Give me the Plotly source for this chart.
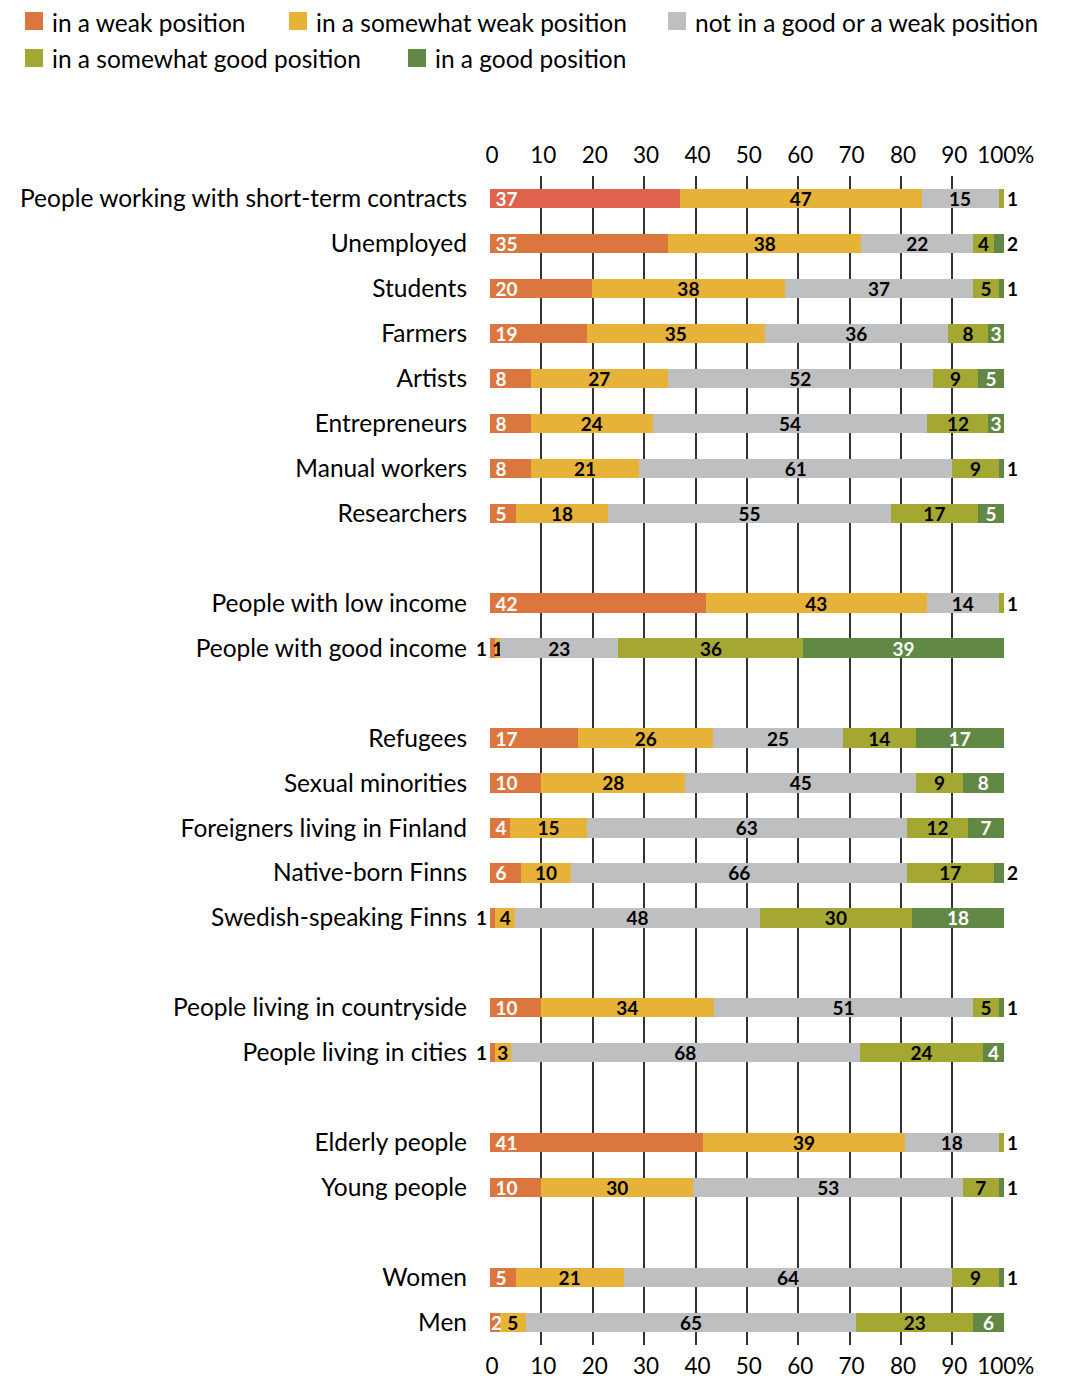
import plotly.graph_objects as go

# ---- data (None = spacer row between groups) ----
categories = [
    "People working with short-term contracts", "Unemployed", "Students", "Farmers",
    "Artists", "Entrepreneurs", "Manual workers", "Researchers", None,
    "People with low income", "People with good income", None,
    "Refugees", "Sexual minorities", "Foreigners living in Finland",
    "Native-born Finns", "Swedish-speaking Finns", None,
    "People living in countryside", "People living in cities", None,
    "Elderly people", "Young people", None,
    "Women", "Men",
]
weak          = [37, 35, 20, 19, 8, 8, 8, 5, None, 42, 1, None, 17, 10, 4, 6, 1, None, 10, 1, None, 41, 10, None, 5, 2]
somewhat_weak = [47, 38, 38, 35, 27, 24, 21, 18, None, 43, 1, None, 26, 28, 15, 10, 4, None, 34, 3, None, 39, 30, None, 21, 5]
neutral       = [15, 22, 37, 36, 52, 54, 61, 55, None, 14, 23, None, 25, 45, 63, 66, 48, None, 51, 68, None, 18, 53, None, 64, 65]
somewhat_good = [1, 4, 5, 8, 9, 12, 9, 17, None, 1, 36, None, 14, 9, 12, 17, 30, None, 5, 24, None, 1, 7, None, 9, 23]
good          = [0, 2, 1, 3, 5, 3, 1, 5, None, 0, 39, None, 17, 8, 7, 2, 18, None, 1, 4, None, 0, 1, None, 1, 6]

series_names = ["in a weak position", "in a somewhat weak position",
                "not in a good or a weak position", "in a somewhat good position",
                "in a good position"]
series_values = [weak, somewhat_weak, neutral, somewhat_good, good]
series_colors = ["#DB763E", "#E6B237", "#BEBFC1", "#A4A833", "#628845"]
text_colors = ["white", "black", "black", "black", "white"]
text_anchor = ["start", "middle", "middle", "middle", "middle"]
text_prefix = ["\u2009", "", "", "", ""]
highlight_color = "#E0634E"   # first row's weak segment

x_ticks = [0, 10, 20, 30, 40, 50, 60, 70, 80, 90, 100]
x_ticktext = ["0", "10", "20", "30", "40", "50", "60", "70", "80", "90", "100%"]

FONT = "Lato, 'Open Sans', sans-serif"
rows = list(range(len(categories)))

# ---- geometry (page has an 8px body margin) ----
W, H = 1062, 1371
L, R, T, B = 482, 66, 168, 34
PW, PH = W - L - R, H - T - B
OFF = 8


def px_x(px):
    return ((px - OFF) - L) / PW


def px_y(py):
    return 1 - ((py - OFF) - T) / PH


# decide which labels sit outside the bar
inside_text = [[("" if v is None else text_prefix[k] + str(v)) for v in s]
               for k, s in enumerate(series_values)]
annotations = []
lab_font = dict(family=FONT, size=19, color="black", weight="bold")
for r in rows:
    vals = [s[r] for s in series_values]
    if vals[0] is None:
        continue
    nz = [i for i, v in enumerate(vals) if v]
    last = nz[-1]
    if vals[last] <= 2:
        inside_text[last][r] = ""
        annotations.append(dict(x=100, y=r, xref="x", yref="y", text=str(vals[last]),
                                showarrow=False, xanchor="left", xshift=1, font=lab_font))
    if vals[0] == 1:
        inside_text[0][r] = ""
        annotations.append(dict(x=0, y=r, xref="x", yref="y", text=str(vals[0]),
                                showarrow=False, xanchor="right", xshift=-1, font=lab_font))
    elif vals[0] == 2:
        # too narrow: draw on top so it stays visible over the next segment
        inside_text[0][r] = ""
        annotations.append(dict(x=0, y=r, xref="x", yref="y", text=str(vals[0]),
                                showarrow=False, xanchor="left", xshift=-1,
                                font=dict(family=FONT, size=19, color="white", weight="bold")))
    for i, v in enumerate(vals):
        if v == 0:
            inside_text[i][r] = ""

fig = go.Figure()
for i, (name, vals) in enumerate(zip(series_names, series_values)):
    colors = [series_colors[i]] * len(rows)
    if i == 0:
        colors[0] = highlight_color
    fig.add_trace(go.Bar(
        name=name, x=vals, y=rows, orientation="h",
        marker=dict(color=colors, line=dict(width=0)),
        width=0.43,
        text=inside_text[i], textposition="inside", insidetextanchor=text_anchor[i],
        textangle=0, cliponaxis=False,
        textfont=dict(family=FONT, size=19, color=text_colors[i], weight="bold"),
        hoverinfo="x+name", showlegend=False,
    ))

# invisible trace to carry the top axis
fig.add_trace(go.Scatter(x=[0, 100], y=[0, 0], xaxis="x2", mode="markers",
                         marker=dict(opacity=0), showlegend=False, hoverinfo="skip"))

# ---- manual legend (two rows) ----
legend_slots = [(25, 21, 23), (289, 21, 23), (668, 21, 23), (25, 58, 58), (408, 58, 58)]
shapes = []
for (sx, sy, ty), name, col in zip(legend_slots, series_names, series_colors):
    shapes.append(dict(type="rect", xref="paper", yref="paper",
                       x0=px_x(sx), x1=px_x(sx + 18), y0=px_y(sy + 9), y1=px_y(sy - 9),
                       fillcolor=col, line=dict(width=0)))
    annotations.append(dict(x=px_x(sx + 25), y=px_y(ty), xref="paper", yref="paper",
                            text=name, showarrow=False, xanchor="left", yanchor="middle",
                            font=dict(family=FONT, size=24.5, color="black")))

tick_font = dict(family=FONT, size=22.5, color="black")
fig.update_layout(
    width=W, height=H,
    margin=dict(l=L, r=R, t=T, b=B),
    paper_bgcolor="white", plot_bgcolor="white",
    barmode="stack", barnorm="percent",
    uniformtext=dict(minsize=19, mode="show"),
    font=dict(family=FONT, size=24, color="black"),
    xaxis=dict(range=[0, 100.05], tickvals=x_ticks, ticktext=x_ticktext,
               showgrid=True, gridcolor="#333333", gridwidth=2, zeroline=False,
               showline=False, ticks="", ticklabelstandoff=5, tickfont=tick_font,
               ticklabelshift=2, fixedrange=True, automargin=False),
    xaxis2=dict(overlaying="x", side="top", matches="x",
                tickvals=x_ticks, ticktext=x_ticktext, showgrid=False, zeroline=False,
                ticks="", ticklabelstandoff=8, tickfont=tick_font, ticklabelshift=2,
                automargin=False),
    yaxis=dict(range=[len(rows) - 0.5, -0.5], tickvals=[r for r in rows if categories[r]],
               ticktext=[c for c in categories if c], showgrid=False, zeroline=False,
               ticks="", ticklabelstandoff=22,
               tickfont=dict(family=FONT, size=24.5, color="black"),
               automargin=False),
    annotations=annotations,
    shapes=shapes,
    showlegend=False,
)

fig.write_html("out.html")
